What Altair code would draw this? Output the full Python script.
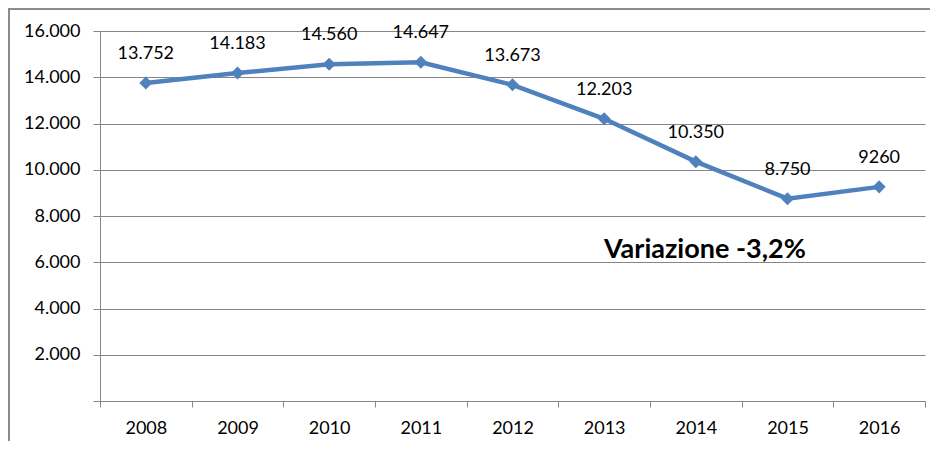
import altair as alt
import pandas as pd

years = ["2008", "2009", "2010", "2011", "2012", "2013", "2014", "2015", "2016"]
values = [13752, 14183, 14560, 14647, 13673, 12203, 10350, 8750, 9260]
labels = ["13.752", "14.183", "14.560", "14.647", "13.673", "12.203", "10.350", "8.750", "9260"]
y_ticks = [0, 2000, 4000, 6000, 8000, 10000, 12000, 14000, 16000]
note_text = "Variazione -3,2%"
note_year = "2014"
note_value = 6530

df = pd.DataFrame({"anno": years, "valore": values, "etichetta": labels})
note_df = pd.DataFrame({"anno": [note_year], "valore": [note_value], "t": [note_text]})

FONT = "Lato"
GRID = "#868686"
BLUE = "#4F81BD"

x_enc = alt.X(
    "anno:N",
    sort=years,
    scale=alt.Scale(type="band", paddingInner=0, paddingOuter=0),
    axis=alt.Axis(
        title=None, labelAngle=0, tickBand="extent", grid=False,
        domainColor=GRID, tickColor=GRID, tickSize=6, labelPadding=12,
        labelFont=FONT, labelFontSize=18, labelColor="black",
    ),
)
y_enc = alt.Y(
    "valore:Q",
    scale=alt.Scale(domain=[0, 16000], nice=False, zero=True),
    axis=alt.Axis(
        title=None, values=y_ticks, grid=True, gridColor=GRID, gridWidth=1,
        domainColor=GRID, tickColor=GRID, tickSize=7, labelPadding=13,
        labelFont=FONT, labelFontSize=18, labelColor="black",
        labelExpr="datum.value == 0 ? '' : replace(format(datum.value, ',.0f'), ',', '.')",
    ),
)

frame = alt.Chart(pd.DataFrame({"k": [0]})).mark_rect(
    filled=False, stroke="#8c8c8c", strokeWidth=2
).encode(
    x=alt.value(-91), x2=alt.value(1000), y=alt.value(-22), y2=alt.value(700)
)

base = alt.Chart(df)
line = base.mark_line(color=BLUE, strokeWidth=4.5).encode(x=x_enc, y=y_enc)
pts = base.mark_point(shape="diamond", filled=True, color=BLUE, size=170, opacity=1).encode(x=x_enc, y=y_enc)
txt = base.mark_text(font=FONT, fontSize=18, color="black", dy=-29, baseline="middle").encode(
    x=x_enc, y=y_enc, text="etichetta:N"
)
note = alt.Chart(note_df).mark_text(
    font=FONT, fontSize=27, fontWeight="bold", color="black", dx=9, baseline="middle"
).encode(x=x_enc, y=y_enc, text="t:N")

chart = alt.layer(frame, line, pts, txt, note).properties(
    width=825, height=370,
    autosize=alt.AutoSizeParams(type="none"),
    padding={"left": 92, "top": 23, "right": 5, "bottom": 40},
    background="white",
).configure_view(stroke=None)

chart.save("out.html", embed_options={"renderer": "svg", "actions": False})
